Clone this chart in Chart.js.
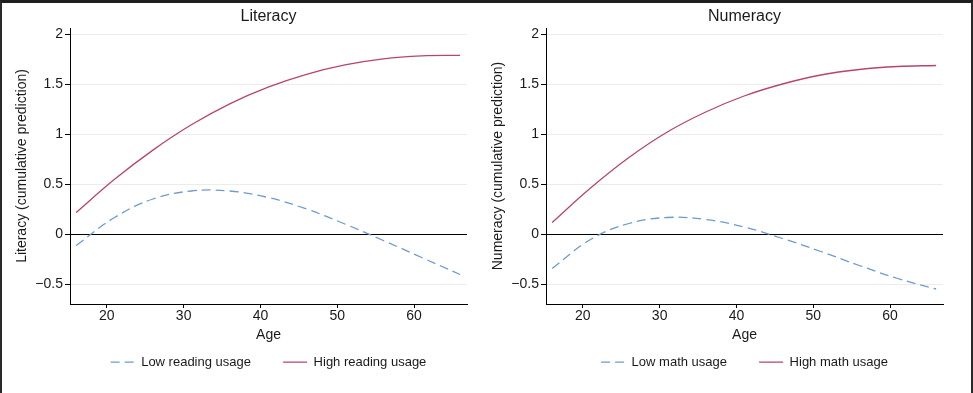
<!DOCTYPE html>
<html>
<head>
<meta charset="utf-8">
<script src="https://cdn.jsdelivr.net/npm/chart.js@4.4.1/dist/chart.umd.min.js"></script>
<style>
  html, body { margin: 0; padding: 0; background: #fff; }
  body { width: 973px; height: 393px; position: relative; overflow: hidden; }
  canvas { position: absolute; top: 0; }
  #litChart { left: 0; }
  #numChart { left: 476px; }
  .frame {
    position: absolute; left: 0; top: 0; width: 969px; height: 390px;
    border-top: 3px solid #1e1e1e; border-left: 2px solid #2a2a2a; border-right: 2px solid #2a2a2a;
    pointer-events: none;
  }
</style>
</head>
<body>
<canvas id="litChart" width="476" height="393"></canvas>
<canvas id="numChart" width="497" height="393"></canvas>
<div class="frame"></div>
<script>
const ages = [16, 21, 26, 31, 36, 41, 46, 51, 56, 61, 66];

const lowReading  = [-0.11, 0.17, 0.355, 0.435, 0.435, 0.37, 0.255, 0.105, -0.06, -0.23, -0.40];
const highReading = [0.22, 0.552, 0.844, 1.097, 1.307, 1.474, 1.602, 1.696, 1.757, 1.786, 1.791];

const lowMath  = [-0.34, -0.05, 0.11, 0.17, 0.15, 0.075, -0.04, -0.17, -0.31, -0.44, -0.545];
const highMath = [0.12, 0.465, 0.77, 1.025, 1.225, 1.385, 1.505, 1.595, 1.65, 1.68, 1.69];

const xTicks = [20, 30, 40, 50, 60];
const yTicks = [-0.5, 0, 0.5, 1, 1.5, 2];

const FONT = "'Liberation Sans', Arial, Helvetica, sans-serif";
const TEXT = '#1a1a1a';
const BLUE = '#6d9ccc';
const RED = '#b8456b';

function points(vals) {
    return ages.map((a, i) => ({ x: a, y: vals[i] }));
}

// extra spacing after the first legend entry, like the original
const legendGap = '\u2003\u2002\u2009';

function makeChart(id, title, yTitle, lowLabel, lowVals, highLabel, highVals, padRight) {
    new Chart(document.getElementById(id), {
        type: 'line',
        data: {
            datasets: [{
                label: lowLabel,
                data: points(lowVals),
                borderColor: BLUE,
                backgroundColor: BLUE,
                borderWidth: 1.3,
                borderDash: [9, 5],
                pointRadius: 0,
                tension: 0.4
            }, {
                label: highLabel,
                data: points(highVals),
                borderColor: RED,
                backgroundColor: RED,
                borderWidth: 1.3,
                pointRadius: 0,
                tension: 0.4
            }]
        },
        options: {
            responsive: false,
            animation: false,
            devicePixelRatio: 1,
            layout: { padding: { left: 8, right: padRight, top: 0, bottom: 14.4 } },
            plugins: {
                tooltip: { enabled: false },
                title: {
                    display: true,
                    text: title,
                    fullSize: false,
                    color: TEXT,
                    font: { family: FONT, size: 16, weight: 'normal' },
                    padding: { top: 6.5, bottom: 2.3 }
                },
                legend: {
                    position: 'bottom',
                    fullSize: false,
                    labels: {
                        color: TEXT,
                        font: { family: FONT, size: 13 },
                        usePointStyle: true,
                        pointStyle: 'line',
                        pointStyleWidth: 24,
                        padding: 10,
                        generateLabels: (chart) => {
                            const items = Chart.defaults.plugins.legend.labels.generateLabels(chart);
                            items.forEach((it, i) => {
                                const ds = chart.data.datasets[it.datasetIndex];
                                it.lineWidth = 1.3;
                                it.strokeStyle = ds.borderColor;
                                it.lineDash = ds.borderDash || [];
                                if (i === 0) it.text = it.text + legendGap;
                            });
                            return items;
                        }
                    }
                }
            },
            scales: {
                x: {
                    type: 'linear',
                    min: 15.2,
                    max: 66.9,
                    afterBuildTicks: (s) => { s.ticks = xTicks.map(v => ({ value: v })); },
                    border: { color: '#000', width: 1 },
                    grid: { drawOnChartArea: false, tickLength: 4, tickColor: '#000' },
                    ticks: { color: TEXT, font: { family: FONT, size: 14 }, padding: 0, maxRotation: 0 },
                    title: {
                        display: true,
                        text: 'Age',
                        color: TEXT,
                        font: { family: FONT, size: 14 },
                        padding: { top: 2, bottom: 2 }
                    }
                },
                y: {
                    min: -0.695,
                    max: 2.065,
                    afterBuildTicks: (s) => { s.ticks = yTicks.map(v => ({ value: v })); },
                    afterFit: (s) => { s.width = 62; },
                    border: { color: '#000', width: 1 },
                    grid: {
                        color: (ctx) => (ctx.tick && ctx.tick.value === 0 ? '#000' : '#ececec'),
                        lineWidth: 1,
                        tickLength: 5,
                        tickColor: '#000'
                    },
                    ticks: {
                        color: TEXT,
                        font: { family: FONT, size: 14 },
                        padding: 2,
                        callback: (v) => (v < 0 ? '\u2212' + Math.abs(v) : String(v))
                    },
                    title: {
                        display: true,
                        text: yTitle,
                        color: TEXT,
                        font: { family: FONT, size: 14 },
                        padding: { top: 6, bottom: 4 }
                    }
                }
            }
        }
    });
}

makeChart('litChart', 'Literacy', 'Literacy (cumulative prediction)',
    'Low reading usage', lowReading, 'High reading usage', highReading, 9);
makeChart('numChart', 'Numeracy', 'Numeracy (cumulative prediction)',
    'Low math usage', lowMath, 'High math usage', highMath, 30);
</script>
</body>
</html>
